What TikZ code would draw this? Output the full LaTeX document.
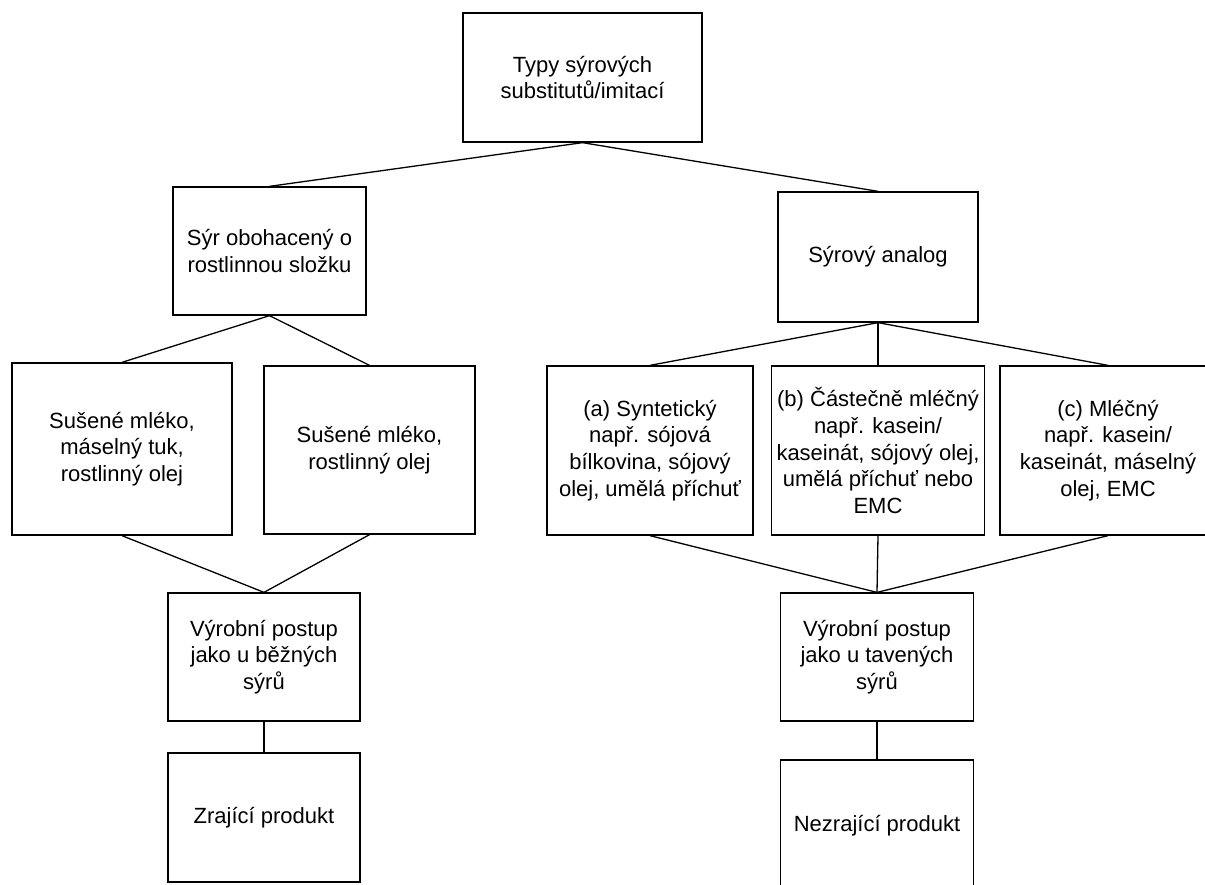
\documentclass[tikz,border=0pt]{standalone}
\usepackage{fontspec}
\setmainfont{Liberation Sans}
\begin{document}
\begin{tikzpicture}[x=1pt,y=-1pt,
  box/.style={draw, line width=1.3pt, inner sep=0pt, align=center,
    font=\fontsize{22}{26.7}\selectfont},
  link/.style={line width=1.3pt}]
\useasboundingbox (0,0) rectangle (1205,884);
\begin{scope}
\clip (0,0) rectangle (1205,884);
\node[box, minimum width=239pt, minimum height=129pt] (top) at (582.5,77.5) {Typy sýrových\\substitutů/imitací};
\node[box, minimum width=193pt, minimum height=128pt] (sv) at (269.5,251) {Sýr obohacený o\\rostlinnou složku};
\node[box, minimum width=200pt, minimum height=130pt] (an) at (878,257) {Sýrový analog};
\node[box, minimum width=220pt, minimum height=172pt] (l1) at (122,449) {Sušené mléko,\\máselný tuk,\\rostlinný olej};
\node[box, minimum width=211pt, minimum height=168pt] (l2) at (369.5,450) {Sušené mléko,\\rostlinný olej};
\node[box, minimum width=206pt, minimum height=169pt] (a) at (650,450.5) {(a) Syntetický\\např. sójová\\bílkovina, sójový\\olej, umělá příchuť};
\node[box, minimum width=213pt, minimum height=169pt] (b) at (878,450.5) {(b) Částečně mléčný\\např. kasein/\\kaseinát, sójový olej,\\umělá příchuť nebo\\EMC};
\node[box, minimum width=216pt, minimum height=169pt] (c) at (1108,450.5) {(c) Mléčný\\např. kasein/\\kaseinát, máselný\\olej, EMC};
\node[box, minimum width=192pt, minimum height=128pt] (lp) at (264,657) {Výrobní postup\\jako u běžných\\sýrů};
\node[box, minimum width=192pt, minimum height=129pt] (zr) at (264,817.5) {Zrající produkt};
\node[box, minimum width=193pt, minimum height=128pt] (rp) at (877,657) {Výrobní postup\\jako u tavených\\sýrů};
\node[box, minimum width=193pt, minimum height=132pt] (nz) at (877,826) {Nezrající produkt};
\draw[link] (top.south) -- (sv.north);
\draw[link] (top.south) -- (an.north);
\draw[link] (sv.south) -- (l1.north);
\draw[link] (sv.south) -- (l2.north);
\draw[link] (an.south) -- (a.north);
\draw[link] (an.south) -- (b.north);
\draw[link] (an.south) -- (c.north);
\draw[link] (l1.south) -- (lp.north);
\draw[link] (l2.south) -- (lp.north);
\draw[link] (a.south) -- (rp.north);
\draw[link] (b.south) -- (rp.north);
\draw[link] (c.south) -- (rp.north);
\draw[link] (lp.south) -- (zr.north);
\draw[link] (rp.south) -- (nz.north);
\end{scope}
\end{tikzpicture}
\end{document}
